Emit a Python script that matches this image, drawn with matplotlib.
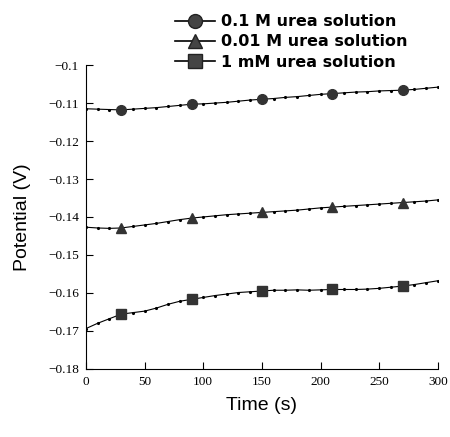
import numpy as np
import matplotlib
matplotlib.use("Agg")
from matplotlib import pyplot as plt

# donnees (temps en s, potentiel en V)
t = [0, 10, 20, 30, 40, 50, 60, 70, 80, 90, 100, 110, 120, 130, 140, 150,
     160, 170, 180, 190, 200, 210, 220, 230, 240, 250, 260, 270, 280, 290, 300]

urea_01M = [-0.1115, -0.1116, -0.1117, -0.1118, -0.1116, -0.1114, -0.1112, -0.1109,
            -0.1106, -0.1103, -0.1102, -0.1100, -0.1098, -0.1095, -0.1092, -0.1090,
            -0.1088, -0.1085, -0.1083, -0.1080, -0.1077, -0.1075, -0.1073, -0.1071,
            -0.1070, -0.1068, -0.1067, -0.1066, -0.1064, -0.1061, -0.1058]

urea_001M = [-0.1427, -0.1429, -0.1430, -0.1429, -0.1425, -0.1421, -0.1417, -0.1412,
             -0.1407, -0.1403, -0.1400, -0.1397, -0.1394, -0.1392, -0.1390, -0.1388,
             -0.1386, -0.1384, -0.1382, -0.1379, -0.1376, -0.1374, -0.1372, -0.1370,
             -0.1368, -0.1366, -0.1364, -0.1362, -0.1360, -0.1358, -0.1355]

urea_1mM = [-0.1694, -0.1680, -0.1668, -0.1656, -0.1652, -0.1648, -0.1640, -0.1630,
            -0.1622, -0.1617, -0.1612, -0.1607, -0.1603, -0.1599, -0.1597, -0.1595,
            -0.1593, -0.1593, -0.1592, -0.1593, -0.1592, -0.1591, -0.1591, -0.1591,
            -0.1590, -0.1588, -0.1585, -0.1582, -0.1578, -0.1573, -0.1568]

labels = ["0.1 M urea solution", "0.01 M urea solution", "1 mM urea solution"]
xticks = [0, 50, 100, 150, 200, 250, 300]
yticks = [-0.1, -0.11, -0.12, -0.13, -0.14, -0.15, -0.16, -0.17, -0.18]
ytick_labels = ["\u22120.1", "\u22120.11", "\u22120.12", "\u22120.13", "\u22120.14",
                "\u22120.15", "\u22120.16", "\u22120.17", "\u22120.18"]

fig = plt.figure(figsize=(4.5, 4.37), dpi=100)
ax = fig.add_axes([0.191, 0.156, 0.782, 0.695])

big = [3, 9, 15, 21, 27]  # gros marqueurs a 30, 90, 150, 210, 270 s
handles = []
for y, m, ms in [(urea_01M, "o", 7), (urea_001M, "^", 7), (urea_1mM, "s", 7)]:
    ax.plot(t, y, color="black", lw=0.8, marker=".", ms=2.5)
    ax.plot(t, y, ls="none", marker=m, ms=ms, color="#333333", markevery=big)
    h, = ax.plot([], [], color="black", lw=1.2, marker=m, ms=10, mfc="#444444", mec="#222222")
    handles.append(h)

ax.set_xlim(0, 300)
ax.set_ylim(-0.18, -0.1)
ax.set_xticks(xticks)
ax.set_yticks(yticks)
ax.set_yticklabels(ytick_labels)
for lab in ax.get_xticklabels() + ax.get_yticklabels():
    lab.set_fontfamily("Liberation Serif")
    lab.set_fontsize(9.5)
ax.tick_params(direction="in", length=5, width=0.8, pad=5)
ax.spines["top"].set_visible(False)
ax.spines["right"].set_visible(False)

ax.set_xlabel("Time (s)", fontsize=14, family="Liberation Sans", labelpad=7)
ax.set_ylabel("Potential (V)", fontsize=14, family="Liberation Sans", labelpad=12)

fig.legend(handles, labels, loc="upper left", bbox_to_anchor=(0.357, 1.0),
           frameon=False, handlelength=2.5, handletextpad=0.35, labelspacing=0.32,
           prop={"family": "DejaVu Sans", "weight": "bold", "size": 11.5})

fig.savefig("out.png", dpi=100)
